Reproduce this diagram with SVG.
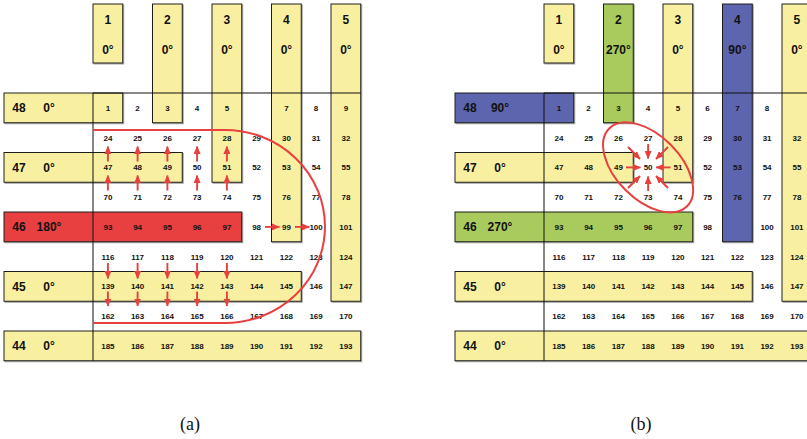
<svg xmlns="http://www.w3.org/2000/svg" width="807" height="439" viewBox="0 0 807 439">
<defs>
<style>
.bar{stroke:#1e1e1e;stroke-width:1;filter:url(#sh)}
.y{fill:#F8F0A0}.r{fill:#E84141}.g{fill:#A9CB5D}.b{fill:#5C65AD}
.lbl{font-family:"Liberation Sans",Arial,sans-serif;font-weight:bold;font-size:12px;fill:#111;text-anchor:middle}
.c text{font-family:"Liberation Sans",Arial,sans-serif;font-weight:bold;font-size:8px;fill:#111;text-anchor:middle}
.grid{stroke:#111;stroke-width:1;fill:none}
.red{stroke:#E8403F;stroke-width:2;fill:none}
.arr line{stroke:#E8403F;stroke-width:1.9;marker-end:url(#ah)}
.cap{font-family:"Liberation Serif","Times New Roman",serif;font-size:18px;fill:#111;text-anchor:middle}
</style>
<filter id="sh" x="-10%" y="-10%" width="130%" height="130%"><feDropShadow dx="1" dy="1" stdDeviation="0.7" flood-color="#000" flood-opacity="0.35"/></filter>
<marker id="ah" markerUnits="userSpaceOnUse" markerWidth="8" markerHeight="7" refX="7.5" refY="3.5" orient="auto"><path d="M0,0 L8,3.5 L0,7 Z" fill="#E8403F"/></marker>
</defs>
<rect width="807" height="439" fill="#fff"/>

<!-- Panel (a) -->
<g id="panel-a">
<g id="a-bar1"><rect class="bar y" x="93" y="4" width="29.75" height="59"/><text class="lbl" x="107.9" y="24.3">1</text><text class="lbl" x="107.9" y="54.3">0°</text></g>
<g id="a-bar2"><rect class="bar y" x="152.5" y="4" width="29.75" height="118.75"/><text class="lbl" x="167.4" y="24.3">2</text><text class="lbl" x="167.4" y="54.3">0°</text></g>
<g id="a-bar3"><rect class="bar y" x="212" y="4" width="29.75" height="178.25"/><text class="lbl" x="226.9" y="24.3">3</text><text class="lbl" x="226.9" y="54.3">0°</text></g>
<g id="a-bar4"><rect class="bar y" x="271.5" y="4" width="29.75" height="237.75"/><text class="lbl" x="286.4" y="24.3">4</text><text class="lbl" x="286.4" y="54.3">0°</text></g>
<g id="a-bar5"><rect class="bar y" x="331" y="4" width="29.75" height="297.25"/><text class="lbl" x="345.9" y="24.3">5</text><text class="lbl" x="345.9" y="54.3">0°</text></g>
<g id="a-row48"><rect class="bar y" x="4" y="93" width="118.75" height="29.75"/><text class="lbl" x="19" y="112.3">48</text><text class="lbl" x="49" y="112.3">0°</text></g>
<g id="a-row47"><rect class="bar y" x="4" y="152.5" width="178.25" height="29.75"/><text class="lbl" x="19" y="171.8">47</text><text class="lbl" x="49" y="171.8">0°</text></g>
<g id="a-row46"><rect class="bar r" x="4" y="212" width="237.75" height="29.75"/><text class="lbl" x="19" y="231.3">46</text><text class="lbl" x="49" y="231.3">180°</text></g>
<g id="a-row45"><rect class="bar y" x="4" y="271.5" width="297.25" height="29.75"/><text class="lbl" x="19" y="290.8">45</text><text class="lbl" x="49" y="290.8">0°</text></g>
<g id="a-row44"><rect class="bar y" x="4" y="331" width="356.75" height="29.75"/><text class="lbl" x="19" y="350.3">44</text><text class="lbl" x="49" y="350.3">0°</text></g>
<path class="grid" d="M93,93 H360.75 M93,93 V360.75"/>
<g id="a-cells" class="c">
<text x="107.9" y="110.8">1</text><text x="137.6" y="110.8">2</text><text x="167.4" y="110.8">3</text><text x="197.1" y="110.8">4</text><text x="226.9" y="110.8">5</text><text x="286.4" y="110.8">7</text><text x="316.1" y="110.8">8</text><text x="345.9" y="110.8">9</text>
<text x="107.9" y="140.5">24</text><text x="137.6" y="140.5">25</text><text x="167.4" y="140.5">26</text><text x="197.1" y="140.5">27</text><text x="226.9" y="140.5">28</text><text x="256.6" y="140.5">29</text><text x="286.4" y="140.5">30</text><text x="316.1" y="140.5">31</text><text x="345.9" y="140.5">32</text>
<text x="107.9" y="170.3">47</text><text x="137.6" y="170.3">48</text><text x="167.4" y="170.3">49</text><text x="197.1" y="170.3">50</text><text x="226.9" y="170.3">51</text><text x="256.6" y="170.3">52</text><text x="286.4" y="170.3">53</text><text x="316.1" y="170.3">54</text><text x="345.9" y="170.3">55</text>
<text x="107.9" y="200">70</text><text x="137.6" y="200">71</text><text x="167.4" y="200">72</text><text x="197.1" y="200">73</text><text x="226.9" y="200">74</text><text x="256.6" y="200">75</text><text x="286.4" y="200">76</text><text x="316.1" y="200">77</text><text x="345.9" y="200">78</text>
<text x="107.9" y="229.8">93</text><text x="137.6" y="229.8">94</text><text x="167.4" y="229.8">95</text><text x="197.1" y="229.8">96</text><text x="226.9" y="229.8">97</text><text x="256.6" y="229.8">98</text><text x="286.4" y="229.8">99</text><text x="316.1" y="229.8">100</text><text x="345.9" y="229.8">101</text>
<text x="107.9" y="259.5">116</text><text x="137.6" y="259.5">117</text><text x="167.4" y="259.5">118</text><text x="197.1" y="259.5">119</text><text x="226.9" y="259.5">120</text><text x="256.6" y="259.5">121</text><text x="286.4" y="259.5">122</text><text x="316.1" y="259.5">123</text><text x="345.9" y="259.5">124</text>
<text x="107.9" y="289.3">139</text><text x="137.6" y="289.3">140</text><text x="167.4" y="289.3">141</text><text x="197.1" y="289.3">142</text><text x="226.9" y="289.3">143</text><text x="256.6" y="289.3">144</text><text x="286.4" y="289.3">145</text><text x="316.1" y="289.3">146</text><text x="345.9" y="289.3">147</text>
<text x="107.9" y="319">162</text><text x="137.6" y="319">163</text><text x="167.4" y="319">164</text><text x="197.1" y="319">165</text><text x="226.9" y="319">166</text><text x="256.6" y="319">167</text><text x="286.4" y="319">168</text><text x="316.1" y="319">169</text><text x="345.9" y="319">170</text>
<text x="107.9" y="348.8">185</text><text x="137.6" y="348.8">186</text><text x="167.4" y="348.8">187</text><text x="197.1" y="348.8">188</text><text x="226.9" y="348.8">189</text><text x="256.6" y="348.8">190</text><text x="286.4" y="348.8">191</text><text x="316.1" y="348.8">192</text><text x="345.9" y="348.8">193</text>
</g>
<g id="a-connectors" class="arr">
<path class="red" d="M93,130 H225 A100,96.5 0 0 1 225,323 H93"/>
<line x1="107.9" y1="161.5" x2="107.9" y2="146.5"/><line x1="137.6" y1="161.5" x2="137.6" y2="146.5"/><line x1="167.4" y1="161.5" x2="167.4" y2="146.5"/><line x1="197.1" y1="161.5" x2="197.1" y2="146.5"/><line x1="226.9" y1="161.5" x2="226.9" y2="146.5"/>
<line x1="107.9" y1="190.5" x2="107.9" y2="175.5"/><line x1="137.6" y1="190.5" x2="137.6" y2="175.5"/><line x1="167.4" y1="190.5" x2="167.4" y2="175.5"/><line x1="197.1" y1="190.5" x2="197.1" y2="175.5"/><line x1="226.9" y1="190.5" x2="226.9" y2="175.5"/>
<line x1="265" y1="226.9" x2="279.5" y2="226.9"/><line x1="295" y1="226.9" x2="309.5" y2="226.9"/>
<line x1="107.9" y1="263" x2="107.9" y2="278.5"/><line x1="137.6" y1="263" x2="137.6" y2="278.5"/><line x1="167.4" y1="263" x2="167.4" y2="278.5"/><line x1="197.1" y1="263" x2="197.1" y2="278.5"/><line x1="226.9" y1="263" x2="226.9" y2="278.5"/>
<line x1="107.9" y1="291.5" x2="107.9" y2="306"/><line x1="137.6" y1="291.5" x2="137.6" y2="306"/><line x1="167.4" y1="291.5" x2="167.4" y2="306"/><line x1="197.1" y1="291.5" x2="197.1" y2="306"/><line x1="226.9" y1="291.5" x2="226.9" y2="306"/>
</g>
<text class="cap" x="190" y="430">(a)</text>
</g>

<!-- Panel (b) -->
<g id="panel-b" transform="translate(451,0)">
<g id="b-bar1"><rect class="bar y" x="93" y="4" width="29.75" height="59"/><text class="lbl" x="107.9" y="24.3">1</text><text class="lbl" x="107.9" y="54.3">0°</text></g>
<g id="b-bar2"><rect class="bar g" x="152.5" y="4" width="29.75" height="118.75"/><text class="lbl" x="167.4" y="24.3">2</text><text class="lbl" x="167.4" y="54.3">270°</text></g>
<g id="b-bar3"><rect class="bar y" x="212" y="4" width="29.75" height="178.25"/><text class="lbl" x="226.9" y="24.3">3</text><text class="lbl" x="226.9" y="54.3">0°</text></g>
<g id="b-bar4"><rect class="bar b" x="271.5" y="4" width="29.75" height="237.75"/><text class="lbl" x="286.4" y="24.3">4</text><text class="lbl" x="286.4" y="54.3">90°</text></g>
<g id="b-bar5"><rect class="bar y" x="331" y="4" width="29.75" height="297.25"/><text class="lbl" x="345.9" y="24.3">5</text><text class="lbl" x="345.9" y="54.3">0°</text></g>
<g id="b-row48"><rect class="bar b" x="4" y="93" width="118.75" height="29.75"/><text class="lbl" x="19" y="112.3">48</text><text class="lbl" x="49" y="112.3">90°</text></g>
<g id="b-row47"><rect class="bar y" x="4" y="152.5" width="178.25" height="29.75"/><text class="lbl" x="19" y="171.8">47</text><text class="lbl" x="49" y="171.8">0°</text></g>
<g id="b-row46"><rect class="bar g" x="4" y="212" width="237.75" height="29.75"/><text class="lbl" x="19" y="231.3">46</text><text class="lbl" x="49" y="231.3">270°</text></g>
<g id="b-row45"><rect class="bar y" x="4" y="271.5" width="297.25" height="29.75"/><text class="lbl" x="19" y="290.8">45</text><text class="lbl" x="49" y="290.8">0°</text></g>
<g id="b-row44"><rect class="bar y" x="4" y="331" width="356.75" height="29.75"/><text class="lbl" x="19" y="350.3">44</text><text class="lbl" x="49" y="350.3">0°</text></g>
<path class="grid" d="M93,93 H360.75 M93,93 V360.75"/>
<g id="b-cells" class="c">
<text x="107.9" y="110.8">1</text><text x="137.6" y="110.8">2</text><text x="167.4" y="110.8">3</text><text x="197.1" y="110.8">4</text><text x="226.9" y="110.8">5</text><text x="256.6" y="110.8">6</text><text x="286.4" y="110.8">7</text><text x="316.1" y="110.8">8</text>
<text x="107.9" y="140.5">24</text><text x="137.6" y="140.5">25</text><text x="167.4" y="140.5">26</text><text x="197.1" y="140.5">27</text><text x="226.9" y="140.5">28</text><text x="256.6" y="140.5">29</text><text x="286.4" y="140.5">30</text><text x="316.1" y="140.5">31</text><text x="345.9" y="140.5">32</text>
<text x="107.9" y="170.3">47</text><text x="137.6" y="170.3">48</text><text x="167.4" y="170.3">49</text><text x="197.1" y="170.3">50</text><text x="226.9" y="170.3">51</text><text x="256.6" y="170.3">52</text><text x="286.4" y="170.3">53</text><text x="316.1" y="170.3">54</text><text x="345.9" y="170.3">55</text>
<text x="107.9" y="200">70</text><text x="137.6" y="200">71</text><text x="167.4" y="200">72</text><text x="197.1" y="200">73</text><text x="226.9" y="200">74</text><text x="256.6" y="200">75</text><text x="286.4" y="200">76</text><text x="316.1" y="200">77</text><text x="345.9" y="200">78</text>
<text x="107.9" y="229.8">93</text><text x="137.6" y="229.8">94</text><text x="167.4" y="229.8">95</text><text x="197.1" y="229.8">96</text><text x="226.9" y="229.8">97</text><text x="256.6" y="229.8">98</text><text x="316.1" y="229.8">100</text><text x="345.9" y="229.8">101</text>
<text x="107.9" y="259.5">116</text><text x="137.6" y="259.5">117</text><text x="167.4" y="259.5">118</text><text x="197.1" y="259.5">119</text><text x="226.9" y="259.5">120</text><text x="256.6" y="259.5">121</text><text x="286.4" y="259.5">122</text><text x="316.1" y="259.5">123</text><text x="345.9" y="259.5">124</text>
<text x="107.9" y="289.3">139</text><text x="137.6" y="289.3">140</text><text x="167.4" y="289.3">141</text><text x="197.1" y="289.3">142</text><text x="226.9" y="289.3">143</text><text x="256.6" y="289.3">144</text><text x="286.4" y="289.3">145</text><text x="316.1" y="289.3">146</text><text x="345.9" y="289.3">147</text>
<text x="107.9" y="319">162</text><text x="137.6" y="319">163</text><text x="167.4" y="319">164</text><text x="197.1" y="319">165</text><text x="226.9" y="319">166</text><text x="256.6" y="319">167</text><text x="286.4" y="319">168</text><text x="316.1" y="319">169</text><text x="345.9" y="319">170</text>
<text x="107.9" y="348.8">185</text><text x="137.6" y="348.8">186</text><text x="167.4" y="348.8">187</text><text x="197.1" y="348.8">188</text><text x="226.9" y="348.8">189</text><text x="256.6" y="348.8">190</text><text x="286.4" y="348.8">191</text><text x="316.1" y="348.8">192</text><text x="345.9" y="348.8">193</text>
</g>
<g id="b-connectors" class="arr">
<ellipse class="red" cx="197.1" cy="167.4" rx="55" ry="32" transform="rotate(45 197.1 167.4)"/>
<line x1="197.1" y1="144" x2="197.1" y2="158.5"/>
<line x1="197.1" y1="191" x2="197.1" y2="176.5"/>
<line x1="175" y1="167.4" x2="189.5" y2="167.4"/>
<line x1="219.5" y1="167.4" x2="205" y2="167.4"/>
<line x1="177" y1="147" x2="189" y2="159"/>
<line x1="217" y1="147" x2="205" y2="159"/>
<line x1="177" y1="188" x2="189" y2="176"/>
<line x1="217" y1="188" x2="205" y2="176"/>
</g>
<text class="cap" x="190" y="430">(b)</text>
</g>
</svg>
